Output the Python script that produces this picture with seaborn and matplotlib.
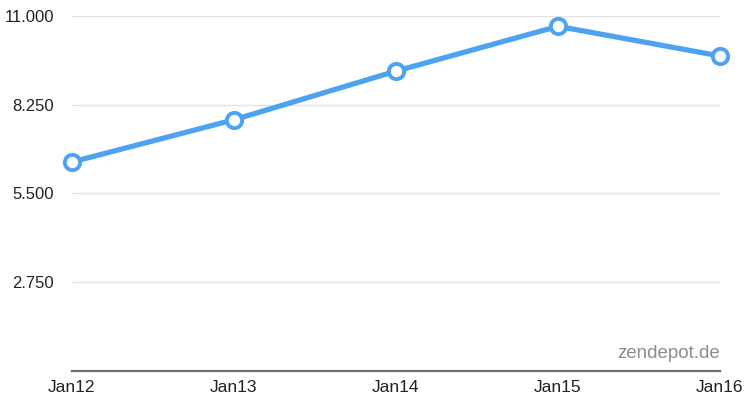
import matplotlib
matplotlib.use("Agg")
import matplotlib.pyplot as plt
import seaborn as sns
import pandas as pd

categories = ["Jan12", "Jan13", "Jan14", "Jan15", "Jan16"]
values = [6.47, 7.78, 9.29, 10.68, 9.76]
ytick_values = [2.75, 5.5, 8.25, 11.0]
ytick_labels = ["2.750", "5.500", "8.250", "11.000"]

sns.set_theme(style="white")
plt.rcParams['font.family'] = ['Liberation Sans', 'DejaVu Sans']

df = pd.DataFrame({"x": range(len(categories)), "v": values})

fig = plt.figure(figsize=(7.5, 4.07), dpi=100)
ax = fig.add_axes([72/750, (407-370.5)/407, (720-72)/750, (370.5-16)/407])

color = "#4DA3F0"
sns.lineplot(data=df, x="x", y="v", ax=ax, color=color, linewidth=3.8,
             marker="o", markersize=11, markerfacecolor="white",
             markeredgecolor=color, markeredgewidth=2.8, clip_on=False, zorder=5)

ax.set_xlim(0, 4)
ax.set_ylim(0, 11)
ax.set_yticks(ytick_values)
ax.set_yticklabels(ytick_labels)
ax.set_xticks(range(len(categories)))
ax.set_xticklabels(categories)
ax.set_xlabel("")
ax.set_ylabel("")
ax.grid(axis="y", color="#E3E3E3", linewidth=1)
ax.set_axisbelow(True)
for s in ["top", "right", "left"]:
    ax.spines[s].set_visible(False)
ax.spines["bottom"].set_color("#6E6E6E")
ax.spines["bottom"].set_linewidth(1.6)
ax.tick_params(axis="y", length=0, pad=13, labelsize=12, labelcolor="#222222")
ax.tick_params(axis="x", length=0, pad=7, labelsize=12.5, labelcolor="#222222")

ax.text(1.0, 0.025, "zendepot.de", transform=ax.transAxes, ha="right", va="bottom",
        fontsize=13.5, color="#8C8C8C")

fig.savefig("out.png", dpi=100)
